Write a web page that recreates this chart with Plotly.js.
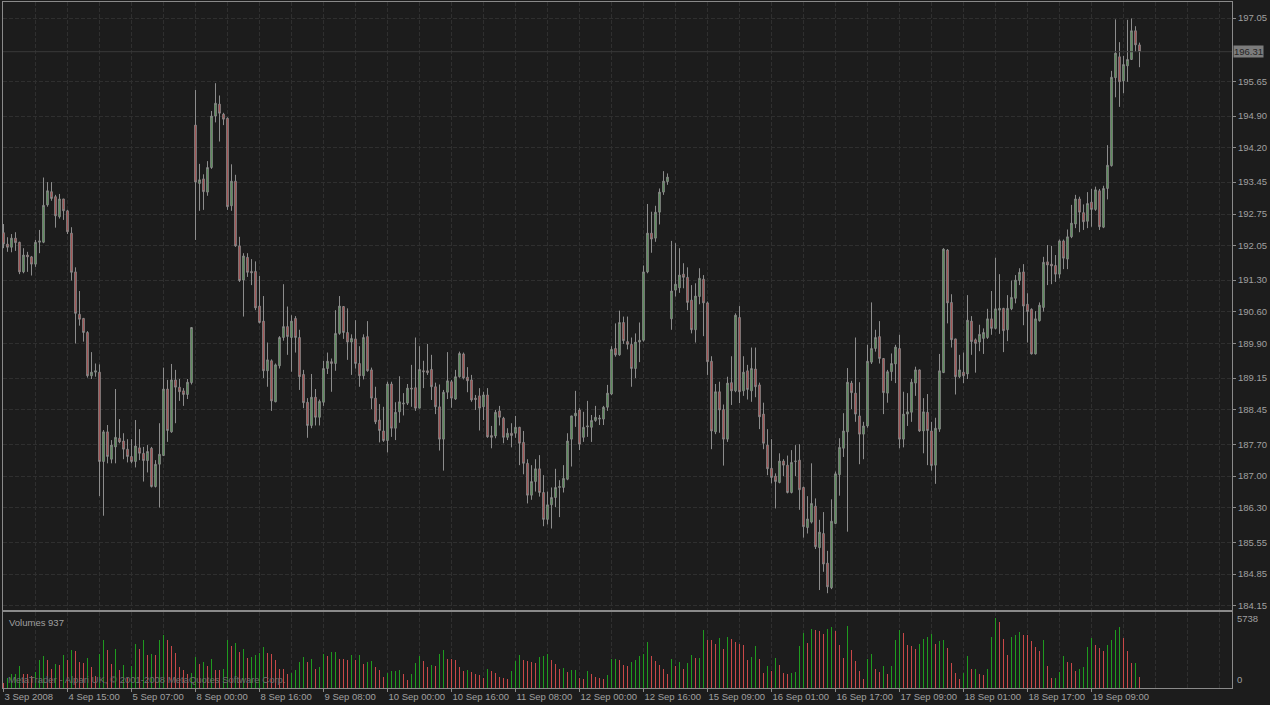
<!DOCTYPE html>
<html>
<head>
<meta charset="utf-8">
<script src="https://cdn.plot.ly/plotly-3.0.1.min.js"></script>
<style>
  html, body { margin: 0; padding: 0; background: #1c1c1c; }
  #chart { width: 1270px; height: 705px; }
</style>
</head>
<body>
<div id="chart"></div>
<script>
// ---- Data (hourly bars, 3 Sep 2008 .. 19 Sep 2008) ----
const openP = [
192.34,192.09,192.02,192.22,192.13,191.48,191.85,191.81,191.65,192.13,
192.13,192.95,193.24,193.13,192.69,193.08,192.82,192.33,191.48,190.55,
190.46,190.15,189.20,189.28,189.28,187.32,187.97,187.37,187.64,187.83,
187.77,187.59,187.43,187.32,187.62,187.50,187.34,187.61,186.77,187.26,
187.45,188.91,187.97,189.11,188.95,188.87,188.79,189.05,194.70,193.42,
193.52,193.23,193.77,194.90,195.16,194.94,194.85,192.93,193.47,192.05,
191.30,191.80,191.49,191.49,190.73,190.40,189.31,189.53,188.63,189.42,
190.04,190.28,190.04,190.46,190.04,189.23,188.62,188.11,188.73,188.29,
188.62,189.36,189.51,189.47,190.13,190.72,190.15,189.94,190.01,189.47,
189.20,190.06,189.33,188.71,188.23,187.99,187.78,189.02,188.05,188.41,
188.58,188.60,188.93,188.94,188.49,189.31,189.31,189.34,188.96,188.52,
187.81,188.84,189.07,188.69,189.18,189.68,189.17,189.11,188.71,188.76,
188.52,188.78,187.89,187.88,188.43,188.27,187.85,187.94,187.94,188.07,
187.74,187.28,186.58,186.88,187.16,186.64,186.05,186.37,186.53,186.75,
186.75,186.93,187.81,188.32,188.45,187.85,188.08,188.07,188.22,188.25,
188.25,188.51,188.80,189.80,189.66,190.37,189.95,189.89,189.36,189.94,
189.98,191.48,192.33,192.22,192.79,193.23,193.46,190.45,191.08,191.13,
191.43,191.36,190.86,190.21,190.94,191.32,190.80,189.52,187.97,188.85,
188.46,187.81,189.05,188.87,190.48,188.87,189.31,188.87,189.35,189.00,
188.36,187.68,187.17,187.00,186.86,187.33,187.24,186.64,187.32,187.35,
186.75,185.87,185.99,186.34,185.43,185.74,185.09,184.55,185.96,187.03,
187.61,187.97,189.04,188.82,188.32,187.92,188.10,189.50,189.80,190.06,
189.58,188.82,189.29,189.46,189.80,187.81,188.36,188.40,189.04,189.33,
187.99,188.40,187.99,187.24,188.03,189.27,191.96,190.81,190.01,189.18,
189.28,189.24,190.40,189.99,189.94,190.02,190.04,190.45,190.24,190.64,
190.68,190.21,190.67,190.90,191.29,191.48,190.77,190.66,189.68,190.41,
190.70,191.70,191.65,191.62,191.43,192.16,191.76,192.25,192.53,193.08,
192.78,192.59,193.01,192.85,193.26,192.46,193.31,193.81,195.74,196.20,
195.67,196.00,196.14,196.77,196.46
];
const highP = [
192.53,192.24,192.31,192.35,192.14,192.00,191.92,191.83,192.18,192.40,
193.55,193.45,193.45,193.17,193.19,193.08,192.84,192.46,191.58,191.06,
190.46,190.18,189.72,189.47,189.45,188.01,188.12,187.79,188.91,188.25,
187.94,187.81,187.81,188.23,188.03,187.64,187.68,187.64,187.35,188.16,
189.38,189.11,189.46,189.33,189.13,188.93,189.13,190.26,195.47,193.85,
193.62,193.91,195.01,195.62,195.35,194.97,194.87,193.84,193.61,192.25,
191.89,191.89,191.76,191.71,191.39,190.95,189.93,189.56,189.47,190.07,
191.21,190.72,190.53,190.51,190.21,189.33,188.71,189.24,188.91,188.68,
189.53,189.71,189.58,190.64,190.95,190.73,190.68,190.11,190.42,189.85,
190.11,190.40,189.38,188.96,188.58,188.52,189.07,189.07,188.62,189.19,
188.82,189.02,189.44,190.04,189.85,189.53,189.90,189.66,189.05,189.01,
188.89,189.72,189.11,189.33,189.73,189.71,189.39,189.22,188.78,188.93,
188.85,188.93,188.10,188.45,188.54,188.30,188.05,188.16,188.32,188.08,
187.99,187.37,187.24,187.37,187.46,187.02,186.66,186.75,187.16,186.91,
187.24,187.94,188.32,188.87,188.49,188.41,188.65,188.34,188.54,188.34,
188.54,189.00,189.85,190.35,190.63,190.50,190.50,190.04,190.13,190.37,
191.62,192.97,192.80,192.93,193.31,193.69,193.64,192.16,192.11,192.00,
191.67,191.58,191.19,191.23,191.56,191.41,190.83,189.63,189.02,189.07,
188.57,189.18,189.63,190.57,190.73,189.63,189.44,189.82,189.82,189.05,
188.61,188.03,187.81,187.06,187.50,187.37,187.45,187.57,187.68,187.70,
186.77,186.56,187.28,186.51,186.04,186.21,185.36,186.49,187.10,187.83,
188.38,189.37,189.09,190.04,189.06,188.19,189.88,190.81,190.21,190.40,
189.58,189.33,189.69,189.88,190.10,188.85,188.82,189.13,189.40,189.34,
188.71,188.80,188.19,188.28,189.68,192.00,191.98,190.99,190.01,189.66,
189.71,190.97,190.51,190.02,190.32,190.24,190.67,191.06,191.79,191.43,
190.69,190.97,191.29,191.41,191.56,191.65,191.01,190.68,190.62,190.81,
191.81,192.07,192.05,191.85,192.19,192.19,192.41,192.95,193.17,193.13,
192.96,193.23,193.30,193.35,193.30,193.37,194.26,195.89,197.02,196.52,
196.22,197.01,197.04,196.87,196.51
];
const lowP = [
192.00,191.92,191.91,191.94,191.43,191.45,191.48,191.40,191.59,191.89,
192.11,192.91,193.04,192.45,192.65,192.62,192.31,191.29,189.91,190.30,
189.95,189.16,189.13,189.18,186.56,186.13,187.28,187.28,187.28,187.72,
187.37,187.30,187.28,187.19,187.35,186.88,187.08,186.75,186.75,186.31,
187.45,187.75,187.95,188.16,188.65,188.54,188.69,189.01,192.18,192.82,
192.84,193.15,193.74,194.76,194.34,194.70,192.84,192.82,192.03,191.26,
190.50,191.37,191.19,190.64,190.35,189.15,188.96,188.43,188.62,189.36,
189.97,189.66,189.29,189.71,188.89,188.49,187.84,188.05,188.11,188.11,
188.54,189.24,188.85,189.31,190.10,190.01,189.55,189.22,189.36,188.96,
189.12,189.29,188.47,188.14,187.74,187.75,187.52,187.86,187.79,188.17,
188.33,188.56,188.52,188.43,188.49,188.93,189.22,188.67,188.36,187.56,
187.12,188.69,188.50,188.67,189.16,189.12,188.84,188.63,188.45,188.00,
188.23,187.84,187.61,187.83,188.11,187.72,187.79,187.63,187.84,187.24,
187.04,186.40,186.48,186.66,186.55,185.90,185.94,185.85,186.32,186.10,
186.64,186.91,187.21,188.08,187.57,187.75,187.86,187.75,188.19,188.12,
188.12,188.43,188.78,189.62,189.64,189.90,189.78,188.96,189.15,189.50,
189.95,191.45,191.90,192.14,192.52,193.17,193.39,190.21,190.94,191.02,
191.12,190.64,190.13,189.93,190.77,190.07,189.22,187.59,187.92,187.95,
187.23,187.75,188.56,188.84,188.60,188.76,188.68,188.63,188.73,188.03,
187.59,187.02,186.84,186.29,186.84,187.00,186.62,186.62,187.00,186.26,
185.65,185.74,185.96,185.40,184.50,184.90,184.43,184.52,185.96,186.57,
187.42,185.78,188.47,188.19,187.26,187.37,188.06,189.46,189.73,189.47,
188.36,188.61,189.09,189.04,187.61,187.63,188.10,188.19,188.76,187.97,
187.50,187.24,187.12,186.83,187.97,189.26,190.35,189.82,188.79,189.15,
189.04,189.13,189.66,189.27,189.74,189.68,190.01,190.10,190.22,190.12,
189.72,189.96,190.64,190.79,191.19,190.31,189.93,189.67,189.67,190.39,
190.61,191.19,191.21,191.26,191.34,191.54,191.54,192.22,192.44,192.35,
192.40,192.44,192.47,192.82,192.40,192.44,193.07,193.79,195.31,195.10,
195.40,195.65,196.13,196.31,195.97
];
const closeP = [
192.09,192.02,192.22,192.12,191.48,191.85,191.81,191.65,192.13,192.16,
192.94,193.26,193.09,192.71,193.08,192.82,192.36,191.47,190.57,190.44,
190.15,189.20,189.28,189.31,187.32,187.97,187.43,187.68,187.85,187.75,
187.59,187.43,187.32,187.66,187.50,187.34,187.54,186.77,187.26,187.48,
188.91,188.00,189.11,188.95,188.85,188.79,189.06,190.26,193.45,193.50,
193.24,193.77,194.90,195.18,194.96,194.83,192.91,193.47,192.05,191.29,
191.83,191.47,191.46,190.69,190.37,189.31,189.55,188.65,189.44,190.04,
190.28,190.06,190.40,190.04,189.18,188.61,188.11,188.73,188.29,188.64,
189.36,189.52,189.47,190.13,190.73,190.15,189.94,190.02,189.47,189.20,
190.04,189.31,188.71,188.19,188.00,187.78,189.02,188.05,188.40,188.63,
188.60,188.93,188.91,188.49,189.34,189.29,189.27,188.96,188.52,187.81,
188.84,189.09,188.71,189.18,189.69,189.15,189.09,188.67,188.68,188.49,
188.78,187.86,187.85,188.40,188.29,187.85,187.94,187.89,188.07,187.72,
187.28,186.58,186.88,187.16,186.64,186.05,186.37,186.53,186.75,186.77,
186.95,187.77,188.32,188.38,187.70,188.07,188.10,188.22,188.29,188.27,
188.51,188.82,189.78,189.66,190.37,189.97,189.89,189.36,189.94,189.98,
191.48,192.33,192.20,192.79,193.23,193.47,193.56,191.06,191.21,191.41,
191.36,190.81,190.21,190.95,191.34,190.80,189.51,187.99,188.85,188.45,
187.81,189.04,188.87,190.53,188.85,189.28,188.90,189.36,188.96,188.30,
187.72,187.16,186.97,186.88,187.33,187.24,186.64,187.30,187.33,186.70,
185.89,186.06,186.40,185.45,185.77,185.07,184.57,186.01,187.05,187.63,
187.99,189.06,188.83,188.36,187.92,188.10,189.52,189.80,190.04,189.58,
188.83,189.29,189.47,189.83,187.81,188.36,188.41,189.06,189.33,187.99,
188.41,188.00,187.23,188.05,189.31,191.98,190.80,189.99,189.18,189.33,
189.20,190.42,189.95,189.91,190.11,190.15,190.45,190.24,190.67,190.68,
190.19,190.68,190.92,191.30,191.47,190.73,190.61,189.68,190.45,190.75,
191.69,191.63,191.61,191.43,192.16,191.78,192.25,192.55,193.08,192.79,
192.58,192.98,192.85,193.28,192.47,193.31,193.82,195.75,196.28,195.65,
196.03,196.14,196.77,196.46,196.31
];
const volumes = [
408,843,1115,1170,1768,1170,1115,1006,1306,2312,
2584,2258,1578,1986,1904,2666,2258,3074,3019,2094,
2040,2421,1714,952,2802,3890,3074,1931,3210,1496,
1850,843,1768,3563,3210,3890,2666,2747,2720,3944,
4298,3890,3400,2856,1714,1496,1170,1224,2530,1986,
2122,1768,2394,1496,1442,1523,3890,3400,3672,2938,
3210,2448,2530,2666,2856,3346,2883,2747,2258,1578,
1523,1170,1224,1496,2122,2530,2122,2339,1578,1714,
2802,2584,2910,2965,2394,2339,2258,2666,2258,2666,
1931,2094,2176,1714,1442,898,1224,1387,1414,1442,
1115,626,1170,2067,2584,2176,1714,1850,1768,2802,
3074,2394,2339,2258,1714,1387,1442,1306,1170,1034,
843,1523,1360,1224,898,789,734,1387,2203,2666,
2312,2176,2094,2040,2530,2638,2747,2312,1986,1578,
1632,1306,1442,1496,843,762,1360,1170,898,789,
734,1034,2339,2366,2312,1850,1768,2122,2312,2584,
2802,3754,2584,2176,1850,1523,1115,2394,1768,2122,
1578,2040,2666,2448,2475,4706,3944,3890,3618,4080,
3155,4162,4026,3754,3618,3482,2258,2530,3427,2339,
1224,1795,1360,2475,1850,1224,1115,1197,1306,3400,
4488,3672,4814,4706,4651,4434,4814,4978,4651,3482,
2448,5032,3074,2176,1360,707,2339,2747,1578,1306,
1768,1115,1768,3890,4706,4488,3482,3427,3210,3563,
3971,4162,4379,3563,3835,3890,3264,2040,1224,707,
1224,2584,1523,1578,1115,1034,1523,4162,5738,5386,
3971,2720,4162,4298,4570,4352,4298,3808,3346,2992,
3890,1795,789,843,1306,2584,2122,2040,1387,1523,
1714,3346,4080,3536,3264,3019,3536,3944,4706,4978,
4080,2992,2040,2067,937
];
// time labels, one every 16 bars
const timeLabels = [
'3 Sep 2008','4 Sep 15:00','5 Sep 07:00','8 Sep 00:00','8 Sep 16:00','9 Sep 08:00',
'10 Sep 00:00','10 Sep 16:00','11 Sep 08:00','12 Sep 00:00','12 Sep 16:00','15 Sep 09:00',
'16 Sep 01:00','16 Sep 17:00','17 Sep 09:00','18 Sep 01:00','18 Sep 17:00','19 Sep 09:00'
];
const priceTicks = [197.05,195.65,194.90,194.20,193.45,192.75,192.05,191.30,190.60,
  189.90,189.15,188.45,187.70,187.00,186.30,185.55,184.85,184.15];

// ---- Build chart ----
const n = closeP.length;
const idx = Array.from({length: n}, (_, i) => i);
const labelStep = 16;
const totalSlots = 307;
const majorVals = timeLabels.map((_, k) => k * labelStep);
const minorVals = [];
for (let v = labelStep / 2; v <= totalSlots; v += labelStep / 2) {
  if (!majorVals.includes(v)) minorVals.push(v);
}
const volColors = volumes.map((v, i) => (i > 0 && v > volumes[i - 1]) ? '#1f9a1f' : '#c84848');

const FONT = 'Liberation Sans, Arial, sans-serif';
const TXT = '#a0a0a0';
const GRID = '#2f2f2f';
const BORDER = '#8a8a8a';
const BG = '#1c1c1c';
const xRange = [-0.125, 307.125];

const candle = {
  type: 'candlestick', x: idx, open: openP, high: highP, low: lowP, close: closeP,
  xaxis: 'x', yaxis: 'y',
  increasing: { line: { color: '#8c8c8c', width: 1 }, fillcolor: '#3f8f3f' },
  decreasing: { line: { color: '#8c8c8c', width: 1 }, fillcolor: '#b43434' },
  whiskerwidth: 0, hoverinfo: 'skip'
};
const vol = {
  type: 'bar', x: idx, y: volumes, xaxis: 'x2', yaxis: 'y2',
  marker: { color: volColors, line: { width: 0 } }, width: 0.25, hoverinfo: 'skip'
};

const last = closeP[n - 1];
const volMax = Math.max(...volumes);

const gridCommon = {
  showgrid: true, gridcolor: GRID, griddash: '4px,2px', gridwidth: 1, zeroline: false,
  showline: true, mirror: true, linecolor: BORDER, linewidth: 1
};

const layout = {
  width: 1270, height: 705,
  margin: { l: 3, r: 38, t: 2, b: 17, pad: 0 },
  paper_bgcolor: BG, plot_bgcolor: BG,
  showlegend: false, hovermode: false, dragmode: false,
  boxgap: 0.45,
  bargap: 0,
  font: { family: FONT, size: 9.5, color: TXT },
  xaxis: Object.assign({}, gridCommon, {
    anchor: 'y', domain: [0, 1], range: xRange, fixedrange: true,
    tickmode: 'array', tickvals: majorVals, showticklabels: false, ticks: '',
    minor: { tickmode: 'array', tickvals: minorVals, showgrid: true, gridcolor: GRID,
             griddash: '4px,2px', gridwidth: 1, ticks: '' },
    rangeslider: { visible: false }
  }),
  yaxis: Object.assign({}, gridCommon, {
    anchor: 'x', domain: [0.1137, 1], range: [184.062, 197.401], side: 'right',
    tickmode: 'array', tickvals: priceTicks, ticktext: priceTicks.map(v => v.toFixed(2)),
    ticks: 'outside', ticklen: 3, tickcolor: BORDER, tickfont: { family: FONT, size: 9.5, color: TXT },
    fixedrange: true
  }),
  xaxis2: Object.assign({}, gridCommon, {
    anchor: 'y2', domain: [0, 1], range: xRange, fixedrange: true,
    tickmode: 'array', tickvals: majorVals, ticktext: timeLabels, tickangle: 0,
    ticks: 'outside', ticklen: 3, tickcolor: BORDER, ticklabelposition: 'outside right',
    tickfont: { family: FONT, size: 9.5, color: TXT },
    minor: { tickmode: 'array', tickvals: minorVals, showgrid: true, gridcolor: GRID,
             griddash: '4px,2px', gridwidth: 1, ticks: '' }
  }),
  yaxis2: Object.assign({}, gridCommon, {
    anchor: 'x2', domain: [0, 0.1108], range: [0, volMax * 76 / 70.3], side: 'right',
    showgrid: false, showticklabels: false, ticks: '', fixedrange: true
  }),
  shapes: [
    { type: 'line', xref: 'paper', x0: 0, x1: 1, yref: 'y', y0: last, y1: last,
      line: { color: '#3a3a3a', width: 1 } }
  ],
  annotations: [
    { xref: 'paper', x: 1, xanchor: 'left', xshift: 1, yref: 'y', y: last, yanchor: 'middle',
      text: last.toFixed(2), showarrow: false, bgcolor: '#7c7c7c', borderpad: 0,
      font: { family: FONT, size: 9.5, color: '#262626' } },
    { xref: 'paper', x: 1, xanchor: 'left', xshift: 3, yref: 'y2', y: volMax, yanchor: 'middle',
      yshift: -1, text: String(volMax), showarrow: false, font: { family: FONT, size: 9.5, color: TXT } },
    { xref: 'paper', x: 1, xanchor: 'left', xshift: 3, yref: 'y2', y: 0, yanchor: 'bottom',
      yshift: 1, text: '0', showarrow: false, font: { family: FONT, size: 9.5, color: TXT } },
    { xref: 'paper', x: 0, xanchor: 'left', xshift: 4, yref: 'y2 domain', y: 1, yanchor: 'top',
      yshift: -3, text: 'Volumes ' + volumes[n - 1], showarrow: false,
      font: { family: FONT, size: 9.5, color: TXT } },
    { xref: 'paper', x: 0, xanchor: 'left', xshift: 3, yref: 'y2 domain', y: 0.11, yanchor: 'middle',
      text: 'MetaTrader - Alpari UK, \u00a9 2001-2008 MetaQuotes Software Corp.', showarrow: false,
      font: { family: FONT, size: 9.5, color: '#6f6f6f' } }
  ]
};

Plotly.newPlot('chart', [candle, vol], layout, { staticPlot: true, displayModeBar: false });
</script>
</body>
</html>
